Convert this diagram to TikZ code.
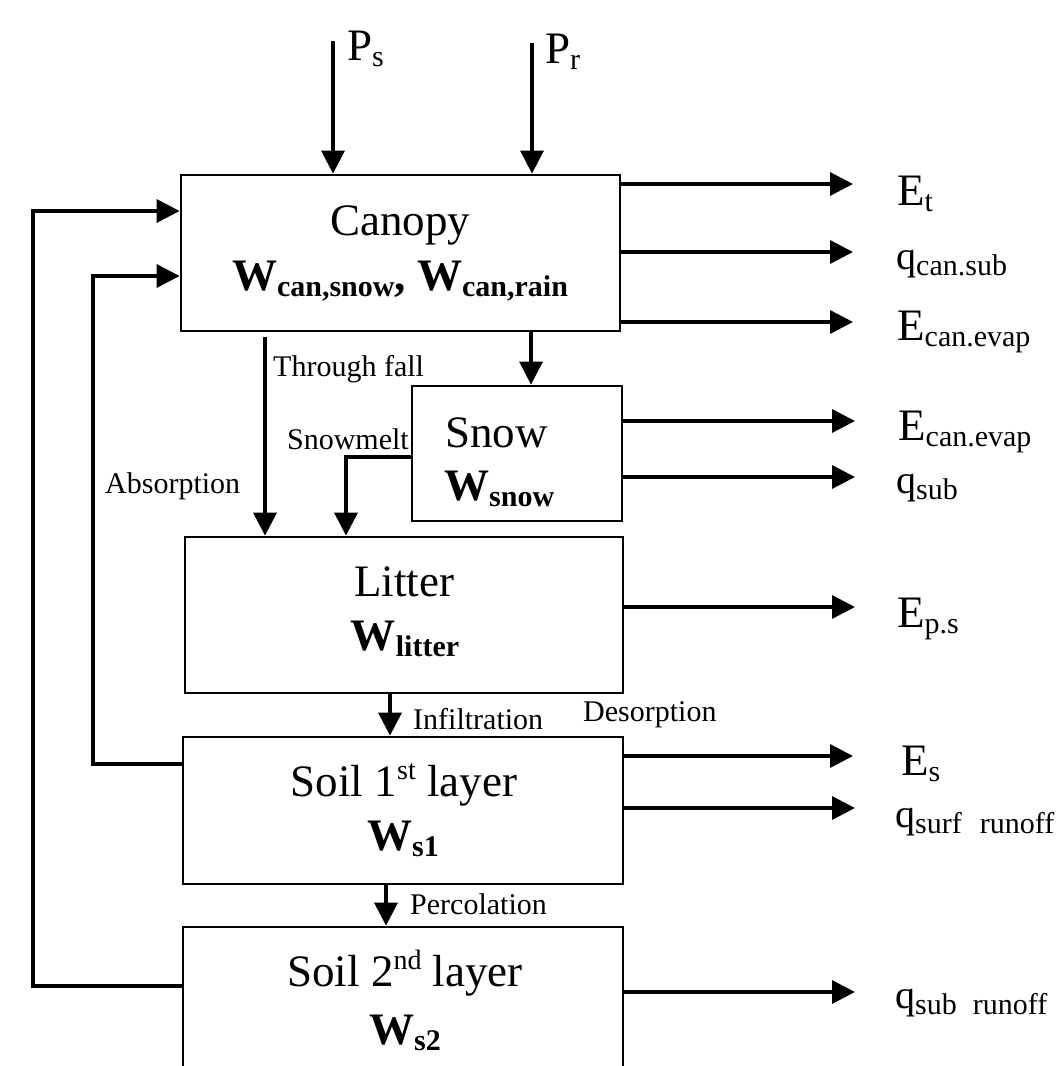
\documentclass[tikz,border=0pt]{standalone}
\usepackage{fontspec}
\setmainfont{Liberation Serif}
\usetikzlibrary{arrows.meta}
\newcommand\bigf{\fontsize{45}{50}\selectfont}
\newcommand\qf{\fontsize{40}{44}\selectfont}
\newcommand\smf{\fontsize{30}{34}\selectfont}
\newcommand\lo[1]{\raisebox{-6pt}{\fontsize{30}{30}\selectfont #1}}
\newcommand\hi[1]{\raisebox{17pt}{\fontsize{28}{28}\selectfont #1}}
\begin{document}
\begin{tikzpicture}[x=1pt,y=-1pt,
  box/.style={draw,line width=2.8pt,inner sep=0pt},
  arr/.style={line width=3.4pt,-{Triangle[length=23pt,width=23pt]}},
  lab/.style={inner sep=0pt,font=\smf,anchor=base west},
  outlab/.style={inner sep=0pt,anchor=base west},
  txt/.style={inner sep=0pt,anchor=base,font=\bigf}]
\useasboundingbox (0,0) rectangle (1064,1066);
\clip (0,0) rectangle (1064,1066);
\fill[white] (0,0) rectangle (1064,1066);

% boxes
\node[box,minimum width=439pt,minimum height=156pt] (canopy) at (400.5,253) {};
\node[box,minimum width=210pt,minimum height=135pt] (snow) at (517,453.5) {};
\node[box,minimum width=438pt,minimum height=156pt] (litter) at (404,615) {};
\node[box,minimum width=440pt,minimum height=147pt] (soil1) at (403,810.5) {};
\node[box,minimum width=440pt,minimum height=173pt] (soil2) at (403,1013.5) {};

% box texts
\node[txt] (tcan) at (400,235) {Canopy};
\node[txt,font=\bigf\bfseries] (wcan) at (400,290) {W\lo{can,snow}, W\lo{can,rain}};
\node[outlab,font=\bigf] (tsnow) at (445,447) {Snow};
\node[outlab,font=\bigf\bfseries] (wsnow) at (444,500) {W\lo{snow}};
\node[txt] (tlit) at (404,596) {Litter};
\node[txt,font=\bigf\bfseries] (wlit) at (405,650) {W\lo{litter}};
\node[txt] (ts1) at (404,796) {Soil 1\hi{st} layer};
\node[txt,font=\bigf\bfseries] (ws1) at (403,850) {W\lo{s1}};
\node[txt] (ts2) at (405,986) {Soil 2\hi{nd} layer};
\node[txt,font=\bigf\bfseries] (ws2) at (405,1044) {W\lo{s2}};

% precipitation inputs
\coordinate (ps0) at (333,41);
\coordinate (pr0) at (532,43);
\draw[arr] (ps0) -- (ps0 |- canopy.north);
\draw[arr] (pr0) -- (pr0 |- canopy.north);
\node[outlab,font=\bigf] (ps) at (347,60) {P\lo{s}};
\node[outlab,font=\bigf] (pr) at (545,63) {P\lo{r}};

% outputs
\coordinate (yEt) at (853,184);
\coordinate (yqc) at (853,252);
\coordinate (yEc) at (853,322);
\coordinate (yEs1) at (855,421);
\coordinate (yqs) at (855,477);
\coordinate (yEp) at (855,607);
\coordinate (yEs) at (853,756);
\coordinate (yqr) at (855,808);
\coordinate (yqsr) at (855,992);
\draw[arr] (canopy.east |- yEt) -- (yEt);
\draw[arr] (canopy.east |- yqc) -- (yqc);
\draw[arr] (canopy.east |- yEc) -- (yEc);
\draw[arr] (snow.east |- yEs1) -- (yEs1);
\draw[arr] (snow.east |- yqs) -- (yqs);
\draw[arr] (litter.east |- yEp) -- (yEp);
\draw[arr] (soil1.east |- yEs) -- (yEs);
\draw[arr] (soil1.east |- yqr) -- (yqr);
\draw[arr] (soil2.east |- yqsr) -- (yqsr);

\node[outlab,font=\bigf] (lEt) at (897,205) {E\lo{t}};
\node[outlab,font=\qf] (lqc) at (896,269) {q\lo{can.sub}};
\node[outlab,font=\bigf] (lEc) at (897,340) {E\lo{can.evap}};
\node[outlab,font=\bigf] (lEs1) at (898,440) {E\lo{can.evap}};
\node[outlab,font=\qf] (lqs) at (896,493) {q\lo{sub}};
\node[outlab,font=\bigf] (lEp) at (897,627) {E\lo{p.s}};
\node[outlab,font=\bigf] (lEs) at (901,775) {E\lo{s}};
\node[outlab,font=\qf] (lqr) at (895,827) {q\lo{surf\hspace{18pt}runoff}};
\node[outlab,font=\qf] (lqsr) at (895,1008) {q\lo{sub\hspace{16pt}runoff}};

% internal flows
\coordinate (cs) at (531,0);
\draw[arr] (cs |- canopy.south) -- (cs |- snow.north);
\coordinate (tf) at (265,337);
\draw[arr] (tf) -- (tf |- litter.north);
\coordinate (sm) at (346,457);
\draw[arr] (sm -| snow.west) -- (sm) -- (sm |- litter.north);
\coordinate (inf) at (390,0);
\draw[arr] (inf |- litter.south) -- (inf |- soil1.north);
\coordinate (perc) at (386,0);
\draw[arr] (perc |- soil1.south) -- (perc |- soil2.north);

% feedback loops
\coordinate (i1) at (93,276);
\coordinate (i2) at (0,764);
\draw[arr] (soil1.west |- i2) -| (i1) -- (i1 -| canopy.west);
\coordinate (o1) at (33,211);
\coordinate (o2) at (0,986);
\draw[arr] (soil2.west |- o2) -| (o1) -- (o1 -| canopy.west);

% flow labels
\node[lab] (lthr) at (273,376) {Through fall};
\node[lab,anchor=base east] (lsm) at (409,449) {Snowmelt};
\node[lab] (labs) at (105,493) {Absorption};
\node[lab] (linf) at (413,729) {Infiltration};
\node[lab] (ldes) at (583,721) {Desorption};
\node[lab] (lper) at (410,914) {Percolation};
\end{tikzpicture}
\end{document}
